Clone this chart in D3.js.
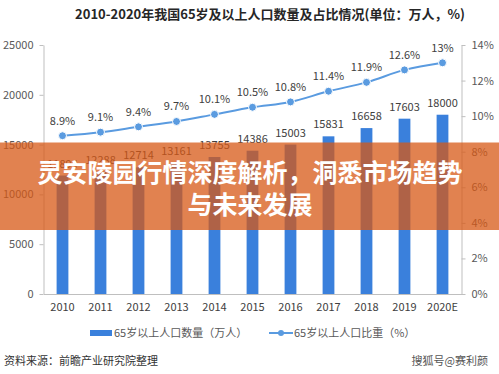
<!DOCTYPE html>
<html>
<head>
<meta charset="utf-8">
<script src="https://cdn.jsdelivr.net/npm/d3@7"></script>
<style>
html,body{margin:0;padding:0;background:#fff;}
svg{display:block;font-family:"Noto Sans CJK SC","Noto Sans",sans-serif;}
</style>
</head>
<body>
<svg id="chart" width="499" height="374"></svg>
<script>
const years = ["2010","2011","2012","2013","2014","2015","2016","2017","2018","2019","2020E"];
const population = [11894,12288,12714,13161,13755,14386,15003,15831,16658,17603,18000];
const share = [8.9,9.1,9.4,9.7,10.1,10.5,10.8,11.4,11.9,12.6,13];
const shareLabels = ["8.9%","9.1%","9.4%","9.7%","10.1%","10.5%","10.8%","11.4%","11.9%","12.6%","13%"];
const leftTicks = [0,5000,10000,15000,20000,25000];
const rightTicks = [0,2,4,6,8,10,12,14];
const titleText = "2010-2020年我国65岁及以上人口数量及占比情况(单位：万人，%)";
const legendBar = "65岁以上人口数量（万人）";
const legendLine = "65岁以上人口比重（%）";
const sourceText = "资料来源：前瞻产业研究院整理";
const creditText = "搜狐号@赛利颜";
const bannerLines = ["灵安陵园行情深度解析，洞悉市场趋势","与未来发展"];

const svg = d3.select("#chart");
const W = 499, H = 374;
const mLeft = 43.5, mRight = 461.5, mTop = 45, mBottom = 294;

const x = d3.scaleBand().domain(years).range([mLeft, mRight]).padding(0);
const yL = d3.scaleLinear().domain([0,25000]).range([mBottom, mTop]);
const yR = d3.scaleLinear().domain([0,14]).range([mBottom, mTop]);
const barW = x.bandwidth()*0.31;
const cx = d => x(d) + x.bandwidth()/2;

const barColor = "#3a80dc";
const lineColor = "#5a9be0";
const axisColor = "#bfbfbf";

// title
svg.append("text").attr("x", 270).attr("y", 19).attr("text-anchor","middle")
  .attr("font-size", 13).attr("font-weight","bold").attr("fill","#262626").text(titleText);

// left axis
const gL = svg.append("g").attr("transform",`translate(${mLeft},0)`)
  .call(d3.axisLeft(yL).tickValues(leftTicks).tickFormat(d3.format("d")).tickSize(4).tickSizeOuter(0).tickPadding(6));
// right axis
const gR = svg.append("g").attr("transform",`translate(${mRight},0)`)
  .call(d3.axisRight(yR).tickValues(rightTicks).tickFormat(d => d + "%").tickSize(4).tickSizeOuter(0).tickPadding(6));
// bottom axis
const gB = svg.append("g").attr("transform",`translate(0,${mBottom})`)
  .call(d3.axisBottom(x).tickSize(0).tickPadding(9));

[gL,gR,gB].forEach(g => {
  g.selectAll("path,line").attr("stroke", axisColor);
  g.selectAll("text").attr("font-size", 11).attr("fill","#595959")
    .attr("font-family",'"Noto Sans CJK SC","Noto Sans",sans-serif');
});
gB.selectAll("text").attr("fill","#404040");

// bars
svg.append("g").selectAll("rect").data(years).join("rect")
  .attr("x", d => cx(d) - barW/2)
  .attr("y", (d,i) => yL(population[i]))
  .attr("width", barW)
  .attr("height", (d,i) => mBottom - yL(population[i]))
  .attr("fill", barColor);

// bar labels
svg.append("g").selectAll("text").data(years).join("text")
  .attr("x", d => cx(d))
  .attr("y", (d,i) => yL(population[i]) - 8)
  .attr("text-anchor","middle").attr("font-size", 11).attr("fill","#404040")
  .text((d,i) => population[i]);

// line
const line = d3.line().x(d => cx(d)).y((d,i) => yR(share[i])).curve(d3.curveMonotoneX);
svg.append("path").datum(years).attr("d", line)
  .attr("fill","none").attr("stroke", lineColor).attr("stroke-width", 2);
svg.append("g").selectAll("circle").data(years).join("circle")
  .attr("cx", d => cx(d)).attr("cy", (d,i) => yR(share[i])).attr("r", 4)
  .attr("fill", lineColor).attr("stroke","#fff").attr("stroke-width",1);
svg.append("g").selectAll("text").data(years).join("text")
  .attr("x", d => cx(d))
  .attr("y", (d,i) => yR(share[i]) - 11)
  .attr("text-anchor","middle").attr("font-size", 11).attr("fill","#404040")
  .text((d,i) => shareLabels[i]);

// legend
const lg = svg.append("g");
lg.append("rect").attr("x", 90).attr("y", 330).attr("width", 22).attr("height", 6).attr("fill", barColor);
lg.append("text").attr("x", 114).attr("y", 337).attr("font-size", 11).attr("fill","#595959").text(legendBar);
lg.append("line").attr("x1", 269).attr("x2", 293).attr("y1", 333).attr("y2", 333)
  .attr("stroke", lineColor).attr("stroke-width", 2);
lg.append("circle").attr("cx", 281).attr("cy", 333).attr("r", 3).attr("fill", lineColor);
lg.append("text").attr("x", 294).attr("y", 337).attr("font-size", 11).attr("fill","#595959").text(legendLine);

// footer
svg.append("text").attr("x", 4).attr("y", 365).attr("font-size", 11).attr("fill","#333").text(sourceText);
svg.append("text").attr("x", 488).attr("y", 365).attr("text-anchor","end").attr("font-size", 11).attr("fill","#555").text(creditText);

// banner overlay
svg.append("rect").attr("x", 0).attr("y", 142.5).attr("width", W).attr("height", 87.5)
  .attr("fill","rgb(215,88,22)").attr("fill-opacity", 0.75);
svg.append("g").selectAll("text").data(bannerLines).join("text")
  .attr("x", 250).attr("y", (d,i) => 171 + i*32)
  .attr("text-anchor","middle").attr("dominant-baseline","central")
  .attr("font-size", 25).attr("font-weight","bold").attr("fill","#fff")
  .text(d => d);
</script>
</body>
</html>
